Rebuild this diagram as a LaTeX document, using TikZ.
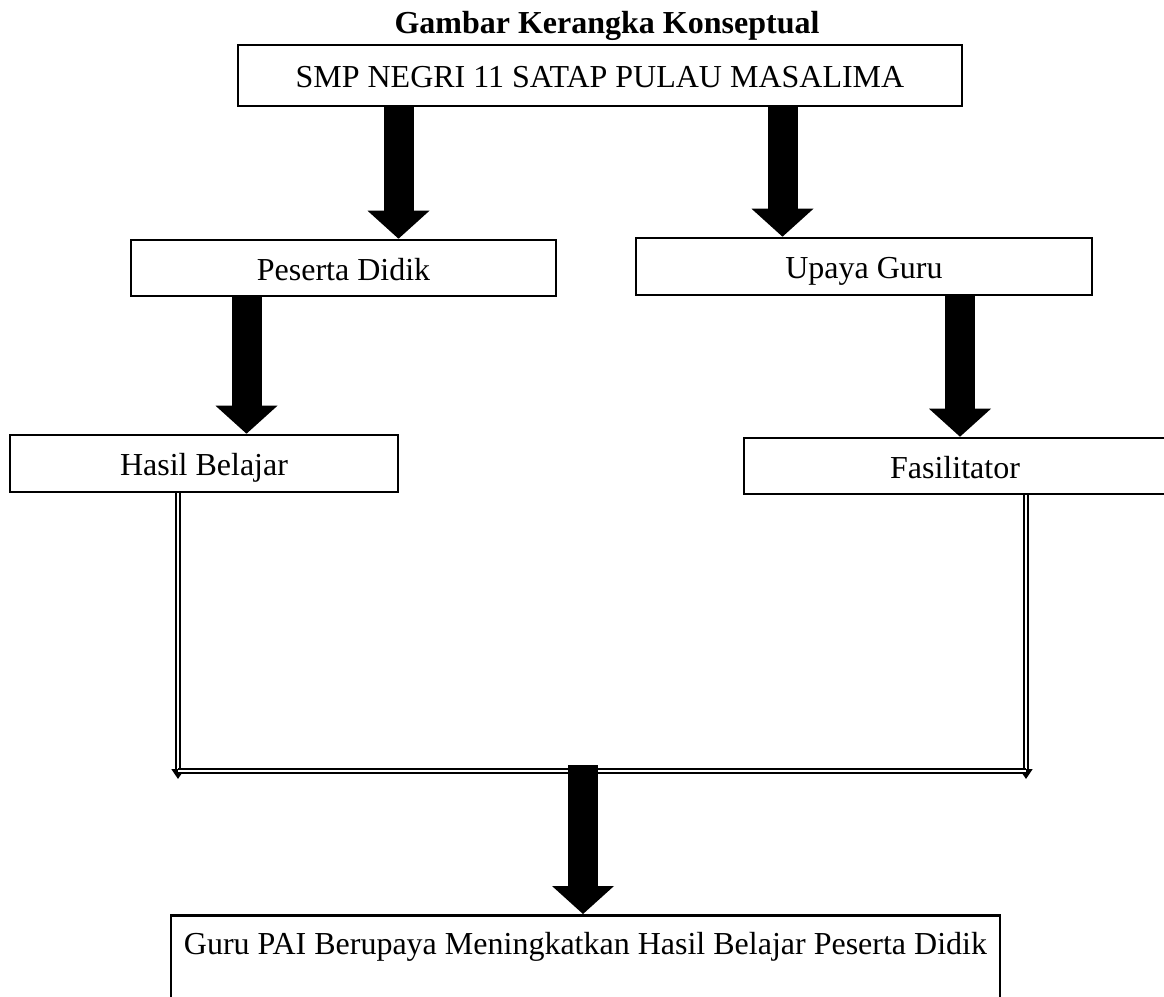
\documentclass[tikz,border=0pt]{standalone}
\usepackage{fontspec}
\setmainfont{Liberation Serif}
\usetikzlibrary{arrows.meta, positioning}

\tikzset{
  kotak/.style={draw, line width=1.3pt, rectangle, text height=15pt, text depth=3pt, font=\fontsize{16}{19}\selectfont},
  panah/.style={line width=15pt, -{Triangle[length=14pt, width=31pt, line width=0pt]}},
  garis/.style={double, double distance=1.2pt, line width=0.9pt},
}

\begin{document}
\begin{tikzpicture}[x=0.5pt, y=-0.5pt]
\useasboundingbox (0,0) rectangle (1164,997);
% judul
\node[font=\fontsize{16}{19}\selectfont\bfseries, anchor=base] (judul) at (607,33) {Gambar Kerangka Konseptual};

% kotak-kotak
\node[kotak, minimum width=362pt, minimum height=30.5pt] (smp) at (600,75.5) {SMP NEGRI 11 SATAP PULAU MASALIMA};
\node[kotak, minimum width=212.5pt, minimum height=28pt] (peserta) at (343.5,268) {Peserta Didik};
\node[kotak, minimum width=228pt, minimum height=28.5pt] (upaya) at (864,266.5) {Upaya Guru};
\node[kotak, minimum width=194pt, minimum height=28.5pt] (hasil) at (204,463.5) {Hasil Belajar};
\node[kotak, minimum width=211pt, minimum height=28pt] (fasilitator) at (955,466) {Fasilitator};
\node[kotak, anchor=north, minimum width=414.5pt, inner ysep=0pt, text height=19.5pt, text depth=40pt] (guru) at (585.5,914) {Guru PAI Berupaya Meningkatkan Hasil Belajar Peserta Didik};

% titik bantu
\coordinate (k1) at (398.5,0);
\coordinate (k2) at (782.5,0);
\coordinate (k3) at (246.5,0);
\coordinate (k4) at (960,0);
\coordinate (k5) at (178,0);
\coordinate (k6) at (1026,0);
\coordinate (gabung) at (0,771);
\coordinate (ujung) at (0,779);
\coordinate (pangkal) at (583,765);

% panah tebal
\draw[panah] (smp.south -| k1) -- (peserta.north -| k1);
\draw[panah] (smp.south -| k2) -- (upaya.north -| k2);
\draw[panah] (peserta.south -| k3) -- (hasil.north -| k3);
\draw[panah] (upaya.south -| k4) -- (fasilitator.north -| k4);

% garis ganda
\draw[garis, -{Triangle[length=5pt, width=6.5pt]}] (hasil.south -| k5) -- (k5 |- ujung);
\draw[garis, -{Triangle[length=5pt, width=6.5pt]}] (fasilitator.south -| k6) -- (k6 |- ujung);
\draw[garis] (k5 |- gabung) -- (k6 |- gabung);

\draw[panah] (pangkal) -- (guru.north -| pangkal);
\end{tikzpicture}
\end{document}
